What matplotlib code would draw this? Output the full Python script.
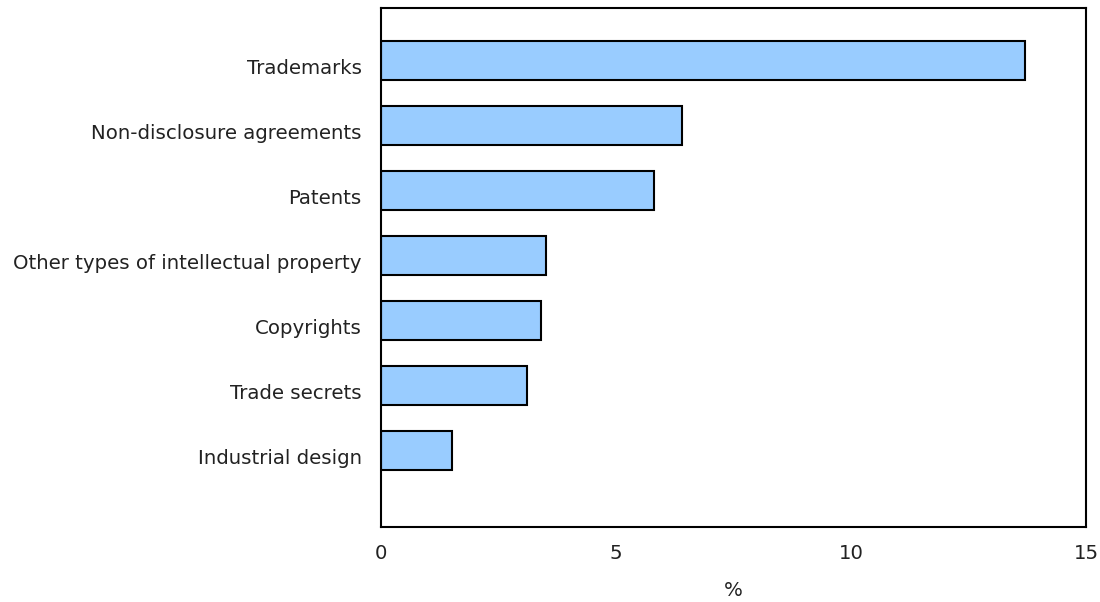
import matplotlib
matplotlib.use("Agg")
import matplotlib.pyplot as plt
from matplotlib.transforms import ScaledTranslation

categories = ["Trademarks", "Non-disclosure agreements", "Patents",
              "Other types of intellectual property", "Copyrights",
              "Trade secrets", "Industrial design"]
values = [13.7, 6.4, 5.8, 3.5, 3.4, 3.1, 1.5]
xticks = [0, 5, 10, 15]
xlabel = "%"

plt.rcParams['font.family'] = ['DejaVu Sans']
fs = 14.2
fig = plt.figure(figsize=(11, 6.02), dpi=100)
ax = fig.add_axes([381/1100, 1 - 527/602, (1086-381)/1100, (527-8)/602])

pos = list(range(len(categories)))
ax.barh(pos, values, height=0.6, color="#99CCFF", edgecolor="black", linewidth=1.5)
ax.set_ylim(len(categories) - 1 + 1.17, -0.815)
ax.set_xlim(0, 15)
ax.set_yticks(pos)
ax.set_yticklabels(categories, fontsize=fs, color="#222222")
ax.set_xticks(xticks)
ax.set_xticklabels([str(t) for t in xticks], fontsize=fs, color="#222222")
ax.tick_params(axis='both', length=0)
ax.tick_params(axis='y', pad=14)
ax.tick_params(axis='x', pad=12.5)
off = ScaledTranslation(0, -6/100, fig.dpi_scale_trans)
for lab in ax.get_yticklabels():
    lab.set_transform(lab.get_transform() + off)
ax.set_xlabel(xlabel, fontsize=fs, labelpad=13, color="#222222")
for s in ax.spines.values():
    s.set_linewidth(1.5)
fig.savefig("out.png", dpi=100)
